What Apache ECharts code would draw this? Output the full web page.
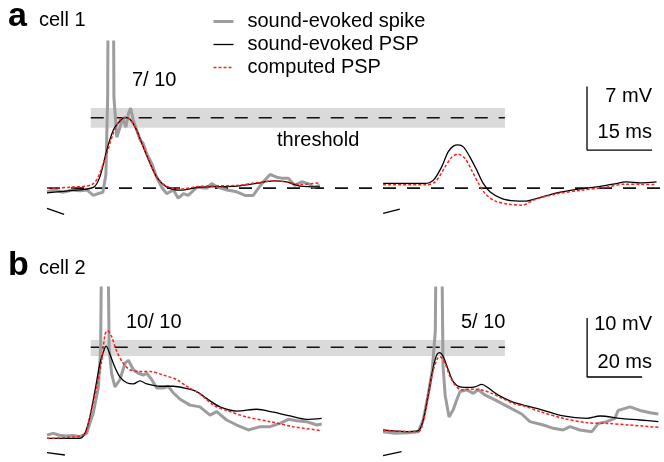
<!DOCTYPE html>
<html><head><meta charset="utf-8">
<script src="https://cdn.jsdelivr.net/npm/echarts@6/dist/echarts.min.js"></script>
<style>html,body{margin:0;padding:0;background:#fff}#c{width:664px;height:462px}</style>
</head><body><div id="c"></div>
<script>
// ---------- DATA (time in ms from trace start, potential in mV above baseline) ----------
// cell 1 (panel a)
const cell1_spike_left = [[0,-0.4],[1.8,-0.2],[3.7,-0.45],[5.8,-0.2],[7.6,-0.3],[9.2,-0.2],[10.7,-0.8],[11.8,-0.6],[12.9,-0.45],[13.6,1.5],[14.0,10],[14.2,30],[15.25,30],[15.45,10],[16.1,5.6],[16.85,6.7],[17.5,7.7],[18.2,6.7],[18.8,8.2],[19.3,8.8],[19.9,7.5],[20.7,6.4],[21.5,5.3],[22.2,4.9],[23.0,3.8],[24.2,2.7],[25.3,1.2],[26.5,0.1],[27.6,-0.6],[29.2,-0.2],[30.3,-1.1],[30.7,-1.3],[31.5,-0.6],[32.6,-0.8],[34.6,0.1],[36.9,0.0],[38.0,0.5],[39.5,0.1],[41.5,-0.2],[43.8,-0.4],[45.7,-0.8],[47.6,-0.8],[48.8,0.0],[50.3,0.9],[51.5,1.5],[53.0,1.2],[54.2,1.1],[55.7,1.1],[57.2,0.3],[58.8,0.7],[60.3,0.5],[61.5,0.1],[63.0,0.3]];
const cell1_psp_left = [[0,-0.52],[5.3,-0.27],[10.7,0.08],[12.2,1.24],[13.8,4.18],[15.3,6.37],[16.9,7.40],[18.0,7.77],[19.2,7.55],[20.7,6.37],[22.2,4.54],[23.8,2.71],[25.3,1.24],[27.6,0.14],[30.7,-0.22],[35.3,0.11],[43.8,0.22],[48.4,0.52],[52.2,0.80],[55.3,0.69],[58.4,0.22],[63.0,0.14]];
const cell1_model_left = [[0,0.0],[5.3,0.1],[10.7,0.5],[13.0,2.7],[15.3,6.0],[17.0,7.6],[18.3,7.8],[19.6,7.3],[21.2,5.8],[22.7,4.0],[24.2,2.3],[25.7,1.0],[27.7,0.2],[30.7,-0.1],[35.3,0.2],[43.8,0.3],[48.4,0.6],[52.2,0.8],[55.3,0.7],[58.4,0.4],[63.0,0.6]];
const cell1_psp_right = [[0,0.52],[9.7,0.52],[11.6,0.88],[13.5,2.34],[15.0,3.99],[16.2,4.62],[17.3,4.76],[18.5,4.54],[20.0,3.44],[21.6,1.98],[23.1,0.52],[24.7,-0.41],[27.4,-1.14],[30.4,-1.40],[32.7,-1.43],[35.4,-1.14],[40.1,-0.52],[44.7,-0.14],[49.3,0.14],[53.1,0.44],[56.2,0.69],[59.3,0.58],[63.1,0.69]];
const cell1_model_right = [[0,0.36],[9.7,0.36],[12.0,0.69],[14.3,2.34],[15.8,3.37],[17.3,3.74],[18.9,3.26],[20.4,1.98],[22.0,0.52],[23.5,-0.58],[25.8,-1.40],[28.9,-1.76],[32.0,-1.87],[35.1,-1.24],[39.7,-0.66],[45.8,-0.22],[51.2,0.08],[55.8,0.44],[59.7,0.41],[62.8,0.41]];
const cell1_threshold = 7.73, cell1_band = [6.63, 8.82];
const cell1_count = "7/ 10";
const cell1_scale = {mV: 7, ms: 15};

// cell 2 (panel b)
const cell2_spike_left = [[0,0.34],[2.3,0.62],[4.5,0.3],[7.2,0.17],[9.5,0.25],[12.0,0.05],[14.4,0.62],[16.8,4.0],[18.7,8.5],[19.5,15],[20.0,40],[22.0,40],[22.6,15],[23.5,10.7],[24.7,8.5],[26.5,9.7],[28.4,12.5],[29.6,13.0],[31.4,11.4],[33.2,10.8],[35.0,10.5],[36.3,10.8],[38.1,9.7],[39.9,8.3],[42.3,8.3],[44.1,8.6],[45.9,7.5],[48.4,6.4],[52.0,5.4],[55.6,5.1],[59.3,3.7],[61.7,4.3],[65.3,2.88],[69.0,2.03],[73.2,1.19],[77.5,1.75],[81.1,1.75],[84.7,2.3],[87.8,3.0],[90.8,2.76],[94.4,2.6],[98.1,2.03],[99.9,2.2]];
const cell2_psp_left = [[0,-0.22],[12.0,-0.22],[13.8,0.62],[15.6,3.44],[17.5,7.97],[19.3,12.54],[21.1,15.2],[21.5,15.4],[22.9,14.0],[24.7,11.8],[26.5,10.2],[29.0,9.2],[31.4,9.0],[33.8,9.5],[36.3,9.0],[41.1,8.6],[45.9,8.6],[50.8,8.2],[54.4,7.7],[58.1,6.5],[62.9,5.1],[69.0,4.4],[76.3,4.7],[82.3,4.2],[88.4,3.56],[94.4,2.99],[99.9,3.16]];
const cell2_model_left = [[0,-0.22],[13.2,0.34],[15.6,3.44],[18.1,8.5],[19.9,12.9],[21.1,17.4],[22.0,18.0],[23.5,17.0],[25.3,14.6],[27.7,12.5],[30.2,11.4],[33.8,11.1],[37.5,11.1],[42.3,10.5],[47.2,9.7],[50.8,8.6],[55.6,7.3],[60.5,5.4],[65.3,4.5],[72.6,3.4],[81.1,2.6],[89.6,1.75],[99.9,1.07]];
const cell2_spike_right = [[0,0.9],[4.3,0.62],[9.2,0.73],[12.8,0.9],[14.6,2.88],[16.5,7.4],[17.9,11.4],[19.0,18],[19.4,40],[21.2,40],[21.8,12],[22.6,7],[24.0,3.4],[25.5,4.6],[26.8,6.3],[28.0,7.7],[30.4,8.0],[32.8,7.4],[34.6,8.0],[37.1,7.1],[40.7,6.3],[45.5,5.1],[50.4,3.9],[53.4,2.6],[58.3,2.03],[61.9,1.47],[65.5,1.19],[68.0,1.75],[71.6,1.19],[75.9,0.9],[78.3,2.3],[81.3,2.6],[84.3,3.16],[85.5,4.5],[89.8,5.1],[93.4,4.5],[97.1,4.1],[100.1,3.9]];
const cell2_psp_right = [[0,1.19],[8.0,0.9],[12.8,1.07],[14.6,2.88],[16.5,7.4],[18.3,11.9],[19.5,13.9],[20.5,14.3],[21.9,13.6],[23.7,11.4],[25.5,9.4],[28.0,8.5],[31.0,8.4],[33.4,8.5],[35.9,8.9],[38.3,8.3],[41.9,7.1],[46.8,6.0],[51.0,5.4],[57.1,4.7],[65.5,3.56],[74.1,3.16],[78.9,3.56],[86.2,3.16],[93.4,2.88],[100.1,2.59]];
const cell2_model_right = [[0,1.07],[12.8,0.9],[14.6,2.59],[16.5,7.1],[18.3,11.4],[19.9,13.4],[20.7,13.6],[22.5,12.5],[24.3,10.3],[26.2,8.8],[28.6,7.97],[32.2,8.1],[35.9,7.97],[39.5,7.4],[43.1,6.6],[48.0,5.6],[51.6,5.2],[57.1,4.3],[65.5,3.16],[74.1,2.42],[81.3,2.3],[89.8,2.03],[100.1,1.64]];
const cell2_threshold = 15.2, cell2_band = [13.73, 16.44];
const cell2_counts = ["10/ 10", "5/ 10"];
const cell2_scale = {mV: 10, ms: 20};

const legendNames = ["sound-evoked spike", "sound-evoked PSP", "computed PSP"];

// ---------- LAYOUT / STYLE ----------
const FONT = "'Liberation Sans', Arial, Helvetica, sans-serif";
const GRAY = '#9d9d9d', RED = '#ff1f1f';
const STYLES = {
  spike: {name: legendNames[0], lineStyle: {color: GRAY, width: 3}, z: 3, smooth: false},
  psp:   {name: legendNames[1], lineStyle: {color: '#000', width: 1.3}, z: 4, smooth: 0.3},
  model: {name: legendNames[2], lineStyle: {color: RED, width: 1.5, type: [3, 2]}, z: 5, smooth: 0.3}
};
// right-panel start on each row's shared time axis (ms)
const offA = 77.6, offB = 122.2;

function trace(kind, data, off, g) {
  const st = STYLES[kind];
  return {
    type: 'line', name: st.name, xAxisIndex: g, yAxisIndex: g,
    data: data.map(p => [p[0] + off, p[1]]),
    symbol: 'none', showSymbol: false, smooth: st.smooth, clip: true,
    lineStyle: st.lineStyle, itemStyle: {color: st.lineStyle.color},
    z: st.z, silent: true, animation: false
  };
}
function seg(name, pts, g, style, z) {
  return {type: 'line', name, xAxisIndex: g, yAxisIndex: g, data: pts, symbol: 'none',
    lineStyle: style, z: z || 2, silent: true, animation: false, clip: false};
}
const dash = {color: '#111', width: 1.6, type: [13, 11]};
const bar = {color: '#000', width: 1.3};

const series = [
  // threshold bands
  {type: 'line', name: 'bandA', xAxisIndex: 0, yAxisIndex: 0, data: [], silent: true,
   markArea: {silent: true, itemStyle: {color: '#dadada'}, data: [[{coord: [10.1, cell1_band[0]]}, {coord: [105.7, cell1_band[1]]}]]}, z: 1},
  {type: 'line', name: 'bandB', xAxisIndex: 1, yAxisIndex: 1, data: [], silent: true,
   markArea: {silent: true, itemStyle: {color: '#dadada'}, data: [[{coord: [15.9, cell2_band[0]]}, {coord: [166.5, cell2_band[1]]}]]}, z: 1},
  seg('thrA', [[10.1, cell1_threshold], [105.7, cell1_threshold]], 0, dash),
  seg('baseA', [[0, 0], [141.5, 0]], 0, dash),
  seg('thrB', [[15.9, cell2_threshold], [166.5, cell2_threshold]], 1, dash),
  // scale bars
  seg('scaleA', [[124.65, 4.18 + cell1_scale.mV], [124.65, 4.18], [124.65 + cell1_scale.ms, 4.18]], 0, bar),
  seg('scaleB', [[196.4, 10.17 + cell2_scale.mV], [196.4, 10.17], [196.4 + cell2_scale.ms, 10.17]], 1, bar),
  // stimulus markers
  seg('stimA1', [[0, -2.23], [3.95, -2.89]], 0, bar),
  seg('stimA2', [[offA, -2.78], [offA + 3.85, -2.31]], 0, bar),
  seg('stimB1', [[0, -2.66], [6.5, -3.05]], 1, bar),
  seg('stimB2', [[offB, -3.17], [offB + 6.7, -2.49]], 1, bar),
  // traces
  trace('spike', cell1_spike_left, 0, 0),
  trace('psp', cell1_psp_left, 0, 0),
  trace('model', cell1_model_left, 0, 0),
  trace('psp', cell1_psp_right, offA, 0),
  trace('model', cell1_model_right, offA, 0),
  trace('spike', cell2_spike_left, 0, 1),
  trace('psp', cell2_psp_left, 0, 1),
  trace('model', cell2_model_left, 0, 1),
  trace('spike', cell2_spike_right, offB, 1),
  trace('psp', cell2_psp_right, offB, 1),
  trace('model', cell2_model_right, offB, 1)
];

function txt(text, x, y, size, opts) {
  opts = opts || {};
  return {type: 'text', x, y, silent: true, z: 10,
    style: {text, font: (opts.bold ? 'bold ' : '') + size + 'px ' + FONT, fill: '#000',
      align: opts.align || 'left', verticalAlign: 'middle'}};
}

const option = {
  animation: false,
  backgroundColor: '#fff',
  grid: [
    {left: 47, top: 42, width: 613, height: 178},
    {left: 47, top: 288, width: 613, height: 172}
  ],
  xAxis: [
    {type: 'value', gridIndex: 0, min: 0, max: 141.5, show: false},
    {type: 'value', gridIndex: 1, min: 0, max: 222.9, show: false}
  ],
  yAxis: [
    {type: 'value', gridIndex: 0, min: -3.5, max: 16.06, show: false},
    {type: 'value', gridIndex: 1, min: -3.9, max: 25.25, show: false}
  ],
  legend: {
    data: ['spike', 'psp', 'model'].map(k => ({
      name: STYLES[k].name,
      lineStyle: {width: STYLES[k].lineStyle.width},
      itemStyle: {opacity: 0, borderWidth: 0}
    })),
    orient: 'vertical', left: 212, top: 10, padding: 0,
    itemWidth: 20, itemHeight: 12, itemGap: 0, selectedMode: false,
    itemStyle: {opacity: 0, borderWidth: 0},
    textStyle: {fontSize: 20, fontFamily: FONT, color: '#000', lineHeight: 23, padding: [0, 0, 0, 9]}
  },
  graphic: [
    txt('a', 8, 17, 34, {bold: true}),
    txt('cell 1', 39, 20.5, 20),
    txt(cell1_count, 132, 80, 20),
    txt('threshold', 277, 140, 20),
    txt(cell1_scale.mV + ' mV', 652, 96, 20, {align: 'right'}),
    txt(cell1_scale.ms + ' ms', 652, 132, 20, {align: 'right'}),
    txt('b', 8, 266, 34, {bold: true}),
    txt('cell 2', 39, 268, 20),
    txt(cell2_counts[0], 126, 322.5, 20),
    txt(cell2_counts[1], 461, 322.5, 20),
    txt(cell2_scale.mV + ' mV', 652, 324.5, 20, {align: 'right'}),
    txt(cell2_scale.ms + ' ms', 652, 362, 20, {align: 'right'})
  ],
  series
};
const chart = echarts.init(document.getElementById('c'));
chart.setOption(option);
</script></body></html>
